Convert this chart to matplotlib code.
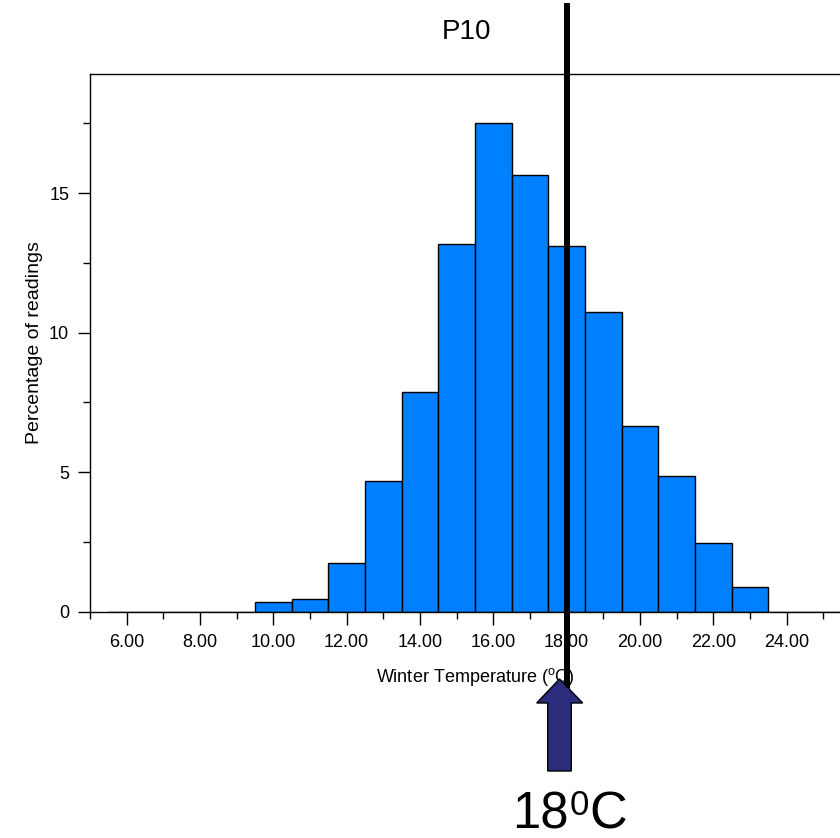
import matplotlib
matplotlib.use("Agg")
import matplotlib.pyplot as plt
from matplotlib.patches import Polygon
from matplotlib.ticker import MultipleLocator, FormatStrFormatter

plt.rcParams['font.family'] = ['Liberation Sans', 'DejaVu Sans']
plt.rcParams['mathtext.fontset'] = 'custom'
plt.rcParams['mathtext.rm'] = 'Liberation Sans'
plt.rcParams['mathtext.it'] = 'Liberation Sans'
plt.rcParams['mathtext.bf'] = 'Liberation Sans'
plt.rcParams['mathtext.default'] = 'regular'

# Data: histogram bins (width 1, centred on integers) and percentages
bin_centers = [6, 7, 8, 9, 10, 11, 12, 13, 14, 15, 16, 17, 18, 19, 20, 21, 22, 23, 24, 25]
percentages = [0, 0, 0, 0, 0.34, 0.47, 1.73, 4.68, 7.87, 13.19, 17.50, 15.66,
               13.11, 10.75, 6.66, 4.86, 2.47, 0.90, 0, 0]
threshold = 18.0
xtick_values = [6, 8, 10, 12, 14, 16, 18, 20, 22, 24]
ytick_values = [0, 5, 10, 15]

W, H = 840, 838
fig = plt.figure(figsize=(W / 100, H / 100), dpi=100)
ax = fig.add_axes([90 / W, (H - 611.7) / H, 770 / W, (611.7 - 74) / H])

ax.bar(bin_centers, percentages, width=1.0, color='#0080FF', edgecolor='black',
       linewidth=1.0, align='center', zorder=2)
ax.set_xlim(5, 26)
ax.set_ylim(0, 19.27)

ax.set_xticks(xtick_values)
ax.xaxis.set_major_formatter(FormatStrFormatter('%.2f'))
ax.xaxis.set_minor_locator(MultipleLocator(1))
ax.set_yticks(ytick_values)
ax.yaxis.set_minor_locator(MultipleLocator(2.5))

ax.tick_params(axis='both', which='major', direction='out', length=9, width=1,
               labelsize=13)
ax.tick_params(axis='both', which='minor', direction='out', length=5, width=1)
ax.tick_params(axis='x', which='major', pad=7)
ax.tick_params(axis='y', which='major', pad=6)

for s in ax.spines.values():
    s.set_linewidth(1.0)

ax.set_xlabel('Winter Temperature ($^{o}$C)', fontsize=13, labelpad=11)
ax.set_ylabel('Percentage of readings', fontsize=14, labelpad=4)

# Vertical threshold line extending beyond the axes
ax.plot([threshold, threshold], [-2.8, 21.7], color='black', linewidth=4.3,
        clip_on=False, zorder=5)

# Title
fig.text(466 / W, 1 - 32 / H, 'P10', ha='center', va='center', fontsize=20)

# Block arrow (figure pixel coordinates, y from top)
arrow_px = [(547.7, 771), (571.3, 771), (571.3, 703), (582.7, 703), (559.5, 679),
            (536.7, 703), (547.7, 703)]
arrow = Polygon([(x / W, 1 - y / H) for x, y in arrow_px], closed=True,
                transform=fig.transFigure, facecolor='#2B2D7C', edgecolor='black',
                linewidth=1.0)
fig.patches.append(arrow)

# "18⁰C" label
base = 1 - 828 / H
fig.text(512 / W, base, '18', ha='left', va='baseline', fontsize=36.5)
fig.text(569.5 / W, 1 - 815 / H, '0', ha='left', va='baseline', fontsize=25)
fig.text(589.5 / W, base, 'C', ha='left', va='baseline', fontsize=37.5)

fig.savefig('out.png', dpi=100)
